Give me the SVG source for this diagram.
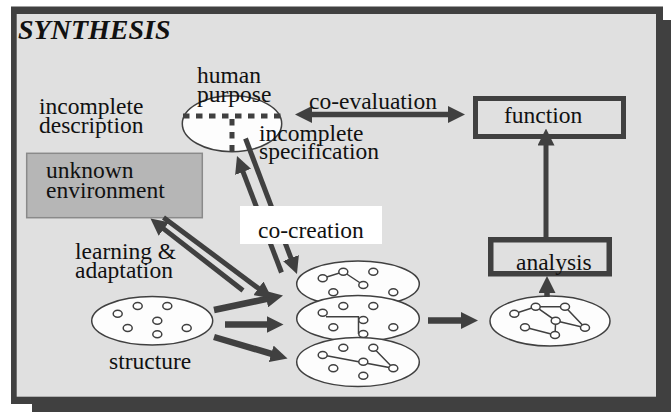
<svg xmlns="http://www.w3.org/2000/svg" width="671" height="412" viewBox="0 0 671 412">
<style>
.t{font-family:"Liberation Serif","Times New Roman",serif;font-size:23.5px;fill:#111}
.blob{fill:#fdfdfd;stroke:#404040;stroke-width:1.5}
.n{fill:#fff;stroke:#404040;stroke-width:1.5}
.e{stroke:#404040;stroke-width:1.5;fill:none}
.a{stroke:#404040;fill:none;marker-end:url(#ah)}
.dot{stroke:#404040;stroke-width:5;stroke-dasharray:6.5 6.5;fill:none}
</style>
<defs>
<marker id="ah" viewBox="0 0 17 17" refX="3" refY="8.5" markerWidth="17" markerHeight="17" markerUnits="userSpaceOnUse" orient="auto-start-reverse"><path d="M0,0 L17,8.5 L0,17 z" fill="#404040"/></marker>
<g id="nd"><ellipse class="n" rx="4.5" ry="3.5"/></g>
</defs>
<rect width="671" height="412" fill="#fff"/>
<g id="panel">
<rect x="32" y="20" width="639" height="392" fill="#404040"/>
<rect x="11" y="6.5" width="652" height="397.5" fill="#404040"/>
<rect x="16.7" y="14" width="639.3" height="382.7" fill="#e0e0e0"/>
<text x="18" y="39" style="font-family:'Liberation Serif','Times New Roman',serif;font-size:28px;font-weight:bold;font-style:italic;fill:#111">SYNTHESIS</text>
</g>
<g id="env">
<rect x="26.7" y="153.3" width="175.6" height="64.4" fill="#b6b6b6" stroke="#8a8a8a" stroke-width="1.5"/>
<text class="t" x="46" y="178">unknown</text>
<text class="t" x="46" y="198">environment</text>
</g>
<g id="purpose">
<ellipse class="blob" cx="232" cy="123.7" rx="49.7" ry="28"/>
<path class="dot" d="M183,116 H282"/>
<path class="dot" d="M232,119 V151"/>
</g>
<g id="function">
<rect x="475.5" y="98.5" width="148" height="38" fill="#e0e0e0" stroke="#404040" stroke-width="5"/>
<text class="t" x="504" y="123">function</text>
</g>
<g id="analysisbox">
<rect x="490.75" y="239.75" width="118.5" height="34" fill="#e0e0e0" stroke="#404040" stroke-width="5.5"/>
</g>
<g id="structure">
<ellipse class="blob" cx="152.2" cy="320.8" rx="60.5" ry="24.2"/>
<use href="#nd" x="117.7" y="313.7"/><use href="#nd" x="137.7" y="306"/><use href="#nd" x="167.3" y="306"/><use href="#nd" x="157.3" y="320.7"/><use href="#nd" x="127.7" y="328"/><use href="#nd" x="186.7" y="328"/><use href="#nd" x="157.3" y="334.3"/>
<text class="t" x="109" y="369">structure</text>
</g>
<g id="stack">
<ellipse class="blob" cx="358" cy="284" rx="61.3" ry="23"/>
<path class="e" d="M322.7,278.3 L343.3,271.7 L363.3,285"/>
<use href="#nd" x="322.7" y="278.3"/><use href="#nd" x="343.3" y="271.7"/><use href="#nd" x="373.3" y="271.7"/><use href="#nd" x="363.3" y="285"/><use href="#nd" x="333.3" y="292.3"/><use href="#nd" x="393.3" y="292.3"/>
<ellipse class="blob" cx="358" cy="318.5" rx="61.3" ry="23"/>
<path class="e" d="M326,316.7 H358.5 V334"/>
<use href="#nd" x="322.7" y="312.7"/><use href="#nd" x="343.3" y="306"/><use href="#nd" x="373.3" y="306"/><use href="#nd" x="363.3" y="320"/><use href="#nd" x="333.3" y="327.3"/><use href="#nd" x="393.3" y="327.3"/><use href="#nd" x="363.3" y="334"/>
<ellipse class="blob" cx="358" cy="362" rx="61.3" ry="24.5"/>
<path class="e" d="M373.3,347.7 L393.3,368.3 L322.7,355"/>
<use href="#nd" x="322.7" y="355"/><use href="#nd" x="343.3" y="347.7"/><use href="#nd" x="373.3" y="347.7"/><use href="#nd" x="363.3" y="361.7"/><use href="#nd" x="333.3" y="368.3"/><use href="#nd" x="393.3" y="368.3"/><use href="#nd" x="363.3" y="375.7"/>
</g>
<g id="result">
<ellipse class="blob" cx="550" cy="321" rx="60" ry="25"/>
<path class="e" d="M514.3,313.7 L535.7,306.7 L565,306.7 L585,327.7 L555.7,320.7 L535.7,306.7 M555.7,320.7 L555,335 L525,327.3"/>
<use href="#nd" x="514.3" y="313.7"/><use href="#nd" x="535.7" y="306.7"/><use href="#nd" x="565" y="306.7"/><use href="#nd" x="555.7" y="320.7"/><use href="#nd" x="525" y="327.3"/><use href="#nd" x="555" y="335"/><use href="#nd" x="585" y="327.7"/>
</g>
<g id="connectors">
<path class="a" d="M309,114.5 H451" stroke-width="5.5" style="marker-start:url(#ah)"/>
<path class="a" d="M546,238 V142.5" stroke-width="5"/>
<path class="a" d="M547,297 V290" stroke-width="5.5"/>
<path class="a" d="M428,320.5 H464" stroke-width="6.5"/>
<path class="a" d="M214,310 L269.3,298.4" stroke-width="6.5"/>
<path class="a" d="M225,324.5 H269.5" stroke-width="6.5"/>
<path class="a" d="M214,337 L274.1,354.6" stroke-width="6.5"/>
<path class="a" d="M243,290.5 L161.5,227.1" stroke-width="5"/>
<path class="a" d="M163.5,217.5 L260.8,290.1" stroke-width="5"/>
<path class="a" d="M281.5,272.5 L242,169.1" stroke-width="5"/>
<path class="a" d="M245.5,138.5 L292,260.9" stroke-width="5"/>
</g>
<g id="cocreation">
<rect x="240" y="206" width="142" height="38" fill="#fff"/>
<text class="t" x="258" y="238">co-creation</text>
</g>
<g id="labels">
<text class="t" x="39" y="114">incomplete</text>
<text class="t" x="39" y="133">description</text>
<text class="t" x="197" y="83">human</text>
<text class="t" x="197" y="102">purpose</text>
<text class="t" x="259" y="141">incomplete</text>
<text class="t" x="259" y="159">specification</text>
<text class="t" x="309" y="109">co-evaluation</text>
<text class="t" x="75" y="259">learning &amp;</text>
<text class="t" x="75" y="278">adaptation</text>
<text class="t" x="516" y="270">analysis</text>
</g>
</svg>
